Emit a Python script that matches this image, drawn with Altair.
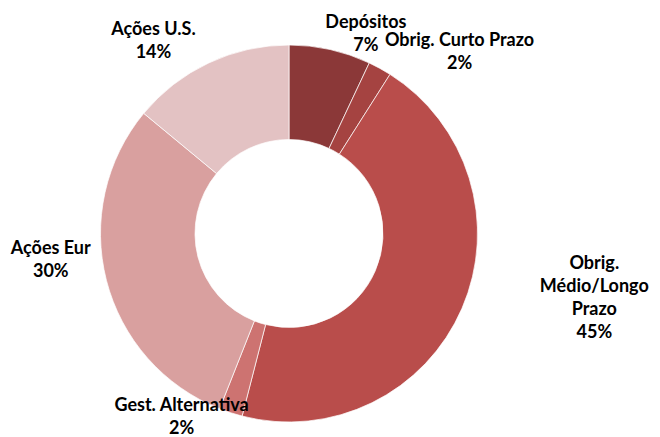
import altair as alt
import pandas as pd

# ---- data ----
categories = ["Depósitos", "Obrig. Curto Prazo", "Obrig. Médio/Longo Prazo",
              "Gest. Alternativa", "Ações Eur", "Ações U.S."]
values = [7, 2, 45, 2, 30, 14]
label_texts = ["Depósitos\n7%", "Obrig. Curto Prazo\n2%",
               "Obrig.\nMédio/Longo\nPrazo\n45%", "Gest. Alternativa\n2%",
               "Ações Eur\n30%", "Ações U.S.\n14%"]
colors = ["#8B3838", "#A54341", "#B94D4B", "#CD7371", "#D9A09F", "#E3C2C3"]

# ---- style / layout ----
CX, CY = 281, 225.5
R_OUT, R_IN = 188.5, 94
R_LABEL = 215
LH = 23
label_offsets = [(30, 11), (67, 7), (108, -20), (-41, -20), (-30, -26), (-44, 2.5)]
FONT = "Lato"

df = pd.DataFrame({
    "idx": list(range(len(categories))),
    "category": categories,
    "value": values,
    "label": label_texts,
})

base = alt.Chart(df)

arcs = base.mark_arc(
    outerRadius=R_OUT, innerRadius=R_IN, stroke="white", strokeWidth=0.7
).encode(
    x=alt.value(CX),
    y=alt.value(CY),
    theta=alt.Theta("value:Q", stack=True),
    color=alt.Color("category:N", scale=alt.Scale(domain=categories, range=colors), legend=None),
    order=alt.Order("idx:Q"),
)

lab_base = base.transform_window(
    cum="sum(value)", sort=[alt.SortField("idx")], frame=[None, 0]
).transform_joinaggregate(
    total="sum(value)"
).transform_calculate(
    mid="(datum.cum - datum.value / 2) / datum.total * 2 * PI",
)

layers = [arcs]
for i, (dx, dy) in enumerate(label_offsets):
    n_lines = label_texts[i].count("\n") + 1
    layers.append(
        lab_base.transform_filter(alt.datum.idx == i).mark_text(
            radius=R_LABEL, dx=dx, dy=dy - (n_lines - 1) * LH / 2,
            font=FONT, fontWeight="bold",
            fontSize=18, lineHeight=LH, lineBreak="\n", align="center",
            baseline="middle", color="black",
        ).encode(
            x=alt.value(CX),
            y=alt.value(CY),
            theta=alt.Theta("mid:Q", scale=None),
            text=alt.Text("label:N"),
        )
    )

chart = alt.layer(*layers).properties(
    width=644, height=429, padding=0, autosize="none"
).configure_view(stroke=None)

chart.save("out.html", embed_options={"renderer": "svg", "actions": False})
